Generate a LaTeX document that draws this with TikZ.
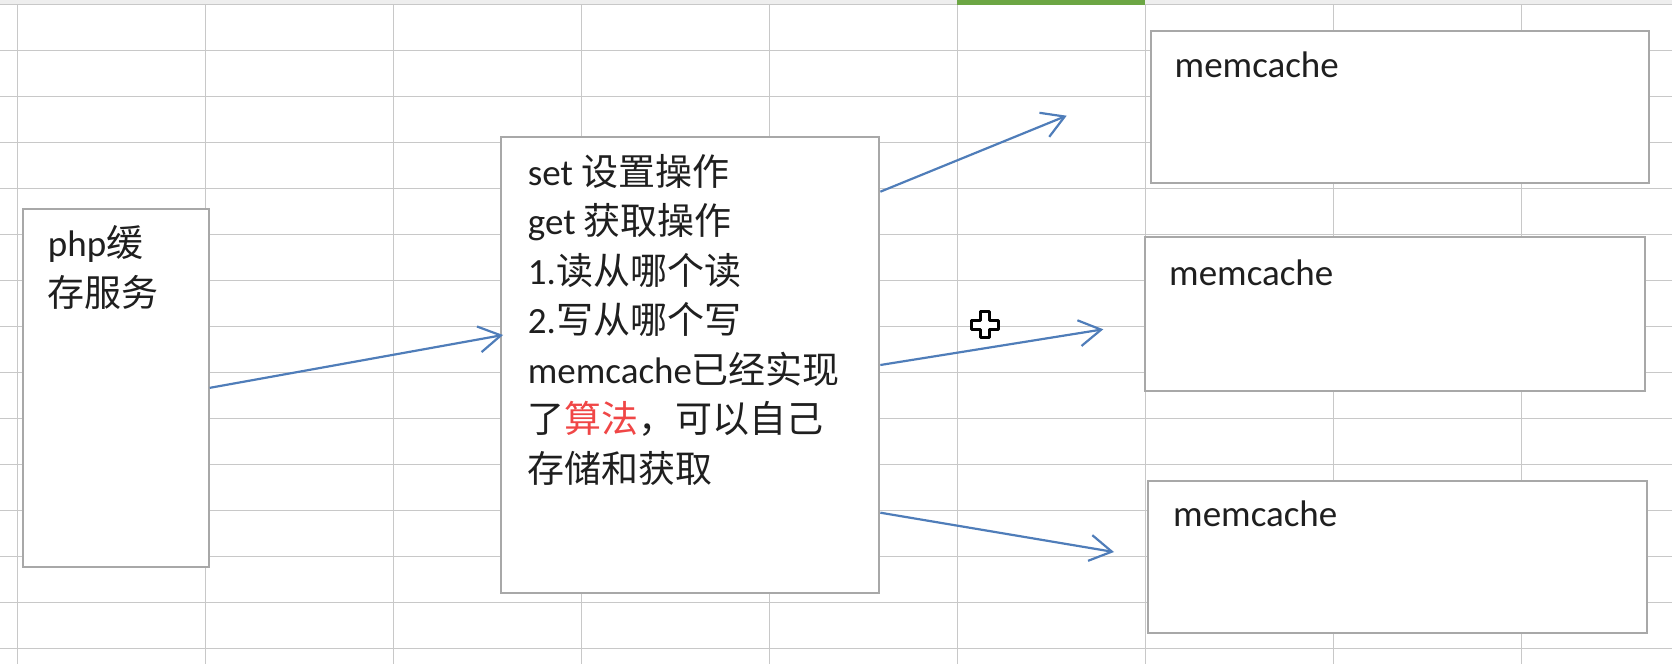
\documentclass[tikz,border=0pt]{standalone}
\usepackage{fontspec}
\setmainfont{Carlito}
\newfontfamily\cjk{Noto Sans CJK SC}
\usetikzlibrary{arrows.meta}
\definecolor{gridline}{RGB}{200,200,200}
\definecolor{headbar}{RGB}{238,238,238}
\definecolor{boxline}{RGB}{168,168,168}
\definecolor{arrowblue}{RGB}{79,125,185}
\definecolor{algored}{RGB}{240,70,70}
\definecolor{selgreen}{RGB}{108,166,68}
\tikzset{
  box/.style={draw=boxline, line width=2pt, fill=white, inner sep=0pt},
  txt/.style={anchor=base west, inner sep=0pt, text=black!88, font=\fontsize{37}{49.5}\selectfont},
  arr/.style={draw=arrowblue, line width=2.2pt, -{Straight Barb[length=22pt,width=26pt]}},
}
\begin{document}
\begin{tikzpicture}[x=1pt,y=-1pt]
	\useasboundingbox (0,0) rectangle (1672,664);
	% sheet grid
	\fill[headbar] (0,0) rectangle (1672,4.7);
	\foreach \i in {0,...,8}
		\draw[gridline, line width=1.5pt] (17.6+188*\i,4.7) -- (17.6+188*\i,664);
	\foreach \j in {0,...,14}
		\draw[gridline, line width=1.5pt] (0,4.7+46*\j) -- (1672,4.7+46*\j);
	\fill[selgreen] (957,0) rectangle (1145,5);
	% boxes
	\node[box, minimum width=186pt, minimum height=357.7pt] (php) at (115.7,387.85) {};
	\node[box, minimum width=378.3pt, minimum height=456.6pt] (mid) at (690.2,365) {};
	\node[box, minimum width=498.5pt, minimum height=151.7pt] (mc1) at (1399.75,106.85) {};
	\node[box, minimum width=499.6pt, minimum height=154.3pt] (mc2) at (1394.8,313.85) {};
	\node[box, minimum width=499pt, minimum height=151.7pt] (mc3) at (1397.5,556.85) {};
	% texts
	\node[txt] (php1) at (47.7,256.7) {php{\cjk 缓}};
	\node[txt] (php2) at (47.7,306) {\cjk 存服务};
	\foreach \t [count=\i] in {{set {\cjk 设置操作}}, {get {\cjk 获取操作}}, {1.{\cjk 读从哪个读}},
		{2.{\cjk 写从哪个写}}, {memcache{\cjk 已经实现}}, {\cjk 了{\color{algored}算法}，可以自己},
		{\cjk 存储和获取}}
		\node[txt] (line\i) at (527.7,185+49.5*\i-49.5) {\t};
	\node[txt] (mct1) at (1174.5,77) {memcache};
	\node[txt] (mct2) at (1169,285) {memcache};
	\node[txt] (mct3) at (1173,526) {memcache};
	% arrows
	\coordinate (t1) at (1066.7,115.7);
	\coordinate (t2) at (1103.3,329.3);
	\coordinate (t3) at (1114,552);
	\draw[arr] (php.east) -- ([xshift=3pt,yshift=30pt]mid.west);
	\draw[arr] ([yshift=173.3pt]mid.east) -- (t1);
	\draw[arr] (mid.east) -- (t2);
	\draw[arr] ([yshift=-147.7pt]mid.east) -- (t3);
	% cursor
	\draw[black, fill=white, line width=3pt, line join=round] (980.5,311.5) -- (989.5,311.5) -- (989.5,320) -- (998.5,320) -- (998.5,329) -- (989.5,329) -- (989.5,337.5) -- (980.5,337.5) -- (980.5,329) -- (971.5,329) -- (971.5,320) -- (980.5,320) -- cycle;
\end{tikzpicture}
\end{document}
